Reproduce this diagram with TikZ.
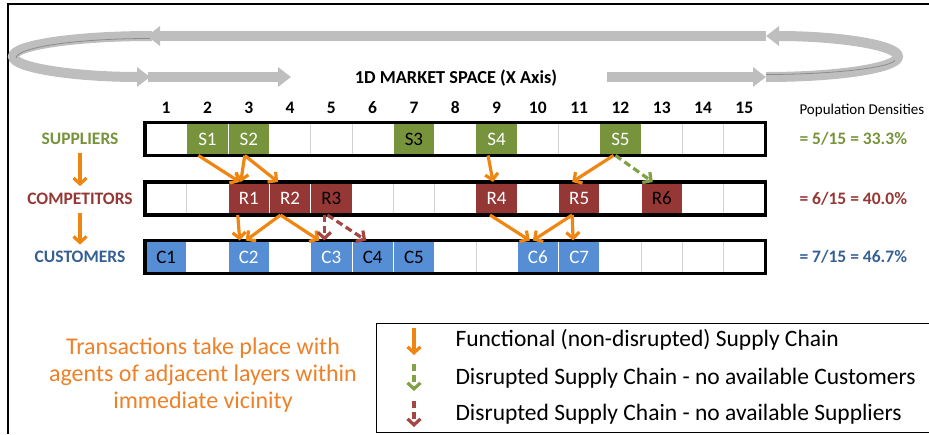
\documentclass[tikz,border=0pt]{standalone}
\usepackage{fontspec}
\setmainfont{Carlito}
\usetikzlibrary{arrows.meta}
\definecolor{supg}{RGB}{119,147,60}
\definecolor{comr}{RGB}{149,55,53}
\definecolor{cusb}{RGB}{85,142,213}
\definecolor{cuslab}{RGB}{55,96,146}
\definecolor{flow}{RGB}{240,134,18}
\definecolor{note}{RGB}{238,128,40}
\definecolor{dashg}{RGB}{130,160,70}
\definecolor{dashr}{RGB}{165,70,66}
\definecolor{ribcol}{RGB}{190,190,190}
\definecolor{ribedge}{RGB}{140,140,140}
\newcommand{\fs}[1]{\fontsize{#1}{#1}\selectfont}
\begin{document}
\begin{tikzpicture}[x=1pt,y=-1pt,
  cell/.style={minimum width=41.3pt,minimum height=32pt,inner sep=0pt,
    fill=white,draw=gray!35,line width=0.8pt},
  agent/.style={minimum width=41.3pt,minimum height=32pt,inner sep=0pt,
    draw=white,line width=1pt,font=\fs{19}},
  supcell/.style={agent,fill=supg},
  comcell/.style={agent,fill=comr},
  cuscell/.style={agent,fill=cusb},
  rowframe/.style={draw=black,line width=3.5pt},
  flowarrow/.style={draw=flow,line width=3.2pt,
    -{Straight Barb[length=6pt,width=13pt]}},
  nocust/.style={draw=dashg,line width=3.2pt,dash pattern=on 7pt off 4pt,
    -{Straight Barb[length=6pt,width=13pt]}},
  nosupp/.style={draw=dashr,line width=3.2pt,dash pattern=on 7pt off 4pt,
    -{Straight Barb[length=6pt,width=13pt]}},
  ribbon/.style={draw=ribcol,line width=10pt,
    -{Triangle[length=13pt,width=19pt]}},
  ribbonline/.style={draw=ribedge,line width=0.8pt},
  rowlabel/.style={font=\bfseries\fs{17.5}},
  density/.style={font=\bfseries\fs{17.5},anchor=west},
  colnum/.style={font=\bfseries\fs{17.5}},
  legtext/.style={anchor=west,font=\fs{23.5}}
]
\useasboundingbox (0,0) rectangle (929,434);

% frame
\draw[line width=2pt] (8,434) -- (8,4) -- (929,4);

% market-space loop
\draw[ribbon] (152,36) .. controls (75,36) and (13,45.2) .. (13,56.5)
  .. controls (13,67.8) and (75,77) .. (150,77);
\draw[ribbonline] (150,38.5) .. controls (78,38.5) and (17,47) .. (16,58);
\draw[ribbon] (766,77) .. controls (839,77) and (898,67.8) .. (898,56.5)
  .. controls (898,45.2) and (839,36) .. (766,36);
\draw[ribbonline] (766,74.5) .. controls (836,74.5) and (893,67) .. (895,60);
\draw[ribbon] (766,36) -- (147,36);
\draw[ribbon] (148,77) -- (291,77);
\draw[ribbon] (607,77) -- (766,77);
\node[font=\bfseries\fs{18.3}] (title) at (456,78) {1D MARKET SPACE (X Axis)};

% column numbers and empty cells
\foreach \i in {1,...,15} {
  \node[colnum] (n-\i) at ({166.15+(\i-1)*41.3},108) {\i};
  \node[cell] (sup-\i) at ({166.15+(\i-1)*41.3},139) {};
  \node[cell] (com-\i) at ({166.15+(\i-1)*41.3},198.5) {};
  \node[cell] (cus-\i) at ({166.15+(\i-1)*41.3},257) {};
}

% suppliers
\node[supcell,text=white] (S1) at (sup-2) {S1};
\node[supcell,text=white] (S2) at (sup-3) {S2};
\node[supcell,text=black] (S3) at (sup-7) {S3};
\node[supcell,text=white] (S4) at (sup-9) {S4};
\node[supcell,text=white] (S5) at (sup-12) {S5};
% competitors
\node[comcell,text=white] (R1) at (com-3) {R1};
\node[comcell,text=white] (R2) at (com-4) {R2};
\node[comcell,text=black] (R3) at (com-5) {R3};
\node[comcell,text=white] (R4) at (com-9) {R4};
\node[comcell,text=white] (R5) at (com-11) {R5};
\node[comcell,text=black] (R6) at (com-13) {R6};
% customers
\node[cuscell,text=black] (C1) at (cus-1) {C1};
\node[cuscell,text=white] (C2) at (cus-3) {C2};
\node[cuscell,text=white] (C3) at (cus-5) {C3};
\node[cuscell,text=black] (C4) at (cus-6) {C4};
\node[cuscell,text=black] (C5) at (cus-7) {C5};
\node[cuscell,text=white] (C6) at (cus-10) {C6};
\node[cuscell,text=white] (C7) at (cus-11) {C7};

% row frames
\draw[rowframe] (sup-1.north west) rectangle (sup-15.south east);
\draw[rowframe] (com-1.north west) rectangle (com-15.south east);
\draw[rowframe] (cus-1.north west) rectangle (cus-15.south east);

% row labels
\node[rowlabel,text=supg] (labS) at (80,139) {SUPPLIERS};
\node[rowlabel,text=comr] (labR) at (80,198.5) {COMPETITORS};
\node[rowlabel,text=cuslab] (labC) at (80,257) {CUSTOMERS};
\draw[flowarrow] ([yshift=-5pt]labS.south) -- ([yshift=3pt]labR.north);
\draw[flowarrow] ([yshift=-5pt]labR.south) -- ([yshift=3pt]labC.north);

% densities
\node[anchor=west,font=\fs{15}] (dens) at (796,110) {Population Densities};
\node[density,text=supg] (dS) at (796,139) {= 5/15 = 33.3\%};
\node[density,text=comr] (dR) at (796,198.5) {= 6/15 = 40.0\%};
\node[density,text=cuslab] (dC) at (796,257) {= 7/15 = 46.7\%};

% supply links, suppliers to competitors
\draw[flowarrow] ([xshift=-9pt]S1.south) -- ([xshift=-9pt]R1.north);
\draw[flowarrow] ([xshift=-4pt]S2.south) -- ([xshift=-8pt]R1.north);
\draw[flowarrow] ([xshift=-4pt]S2.south) -- ([xshift=-12pt]R2.north);
\draw[flowarrow] ([xshift=-8.5pt]S4.south) -- ([xshift=-3.5pt]R4.north);
\draw[flowarrow] ([xshift=-7pt]S5.south) -- ([xshift=-7pt]R5.north);
\draw[nocust] ([xshift=-5pt]S5.south) -- ([xshift=-9pt]R6.north);

% supply links, competitors to customers
\draw[flowarrow] ([xshift=-11pt]R1.south) -- ([xshift=-9pt]C2.north);
\draw[flowarrow] ([xshift=-9.5pt]R2.south) -- ([xshift=-3pt]C2.north);
\draw[flowarrow] ([xshift=-9.5pt]R2.south) -- ([xshift=-12pt]C3.north);
\draw[nosupp] ([xshift=-7pt]R3.south) -- ([xshift=-7pt]C3.north);
\draw[nosupp] ([xshift=-4pt]R3.south) -- ([xshift=-6.5pt]C4.north);
\draw[flowarrow] ([xshift=-6.5pt]R4.south) -- ([xshift=-8pt]C6.north);
\draw[flowarrow] ([xshift=-7pt]R5.south) -- ([xshift=-5pt]C6.north);
\draw[flowarrow] ([xshift=-7pt]R5.south) -- ([xshift=-6pt]C7.north);

% note
\node[align=center,text=note,font=\fontsize{24}{27}\selectfont] (note) at (203,375)
  {Transactions take place with\\agents of adjacent layers within\\immediate vicinity};

% legend
\draw[line width=0.9pt] (929,323) -- (376,323) -- (376,432) -- (929,432);
\coordinate (l1a) at (414,328);
\coordinate (l1b) at (414,355);
\coordinate (l2a) at (414,364);
\coordinate (l2b) at (414,391);
\coordinate (l3a) at (414,401);
\coordinate (l3b) at (414,427);
\draw[flowarrow] (l1a) -- (l1b);
\draw[nocust] (l2a) -- (l2b);
\draw[nosupp] (l3a) -- (l3b);
\node[legtext] (t1) at (452,340) {Functional (non-disrupted) Supply Chain};
\node[legtext] (t2) at (452,378) {Disrupted Supply Chain - no available Customers};
\node[legtext] (t3) at (452,414) {Disrupted Supply Chain - no available Suppliers};
\end{tikzpicture}
\end{document}
